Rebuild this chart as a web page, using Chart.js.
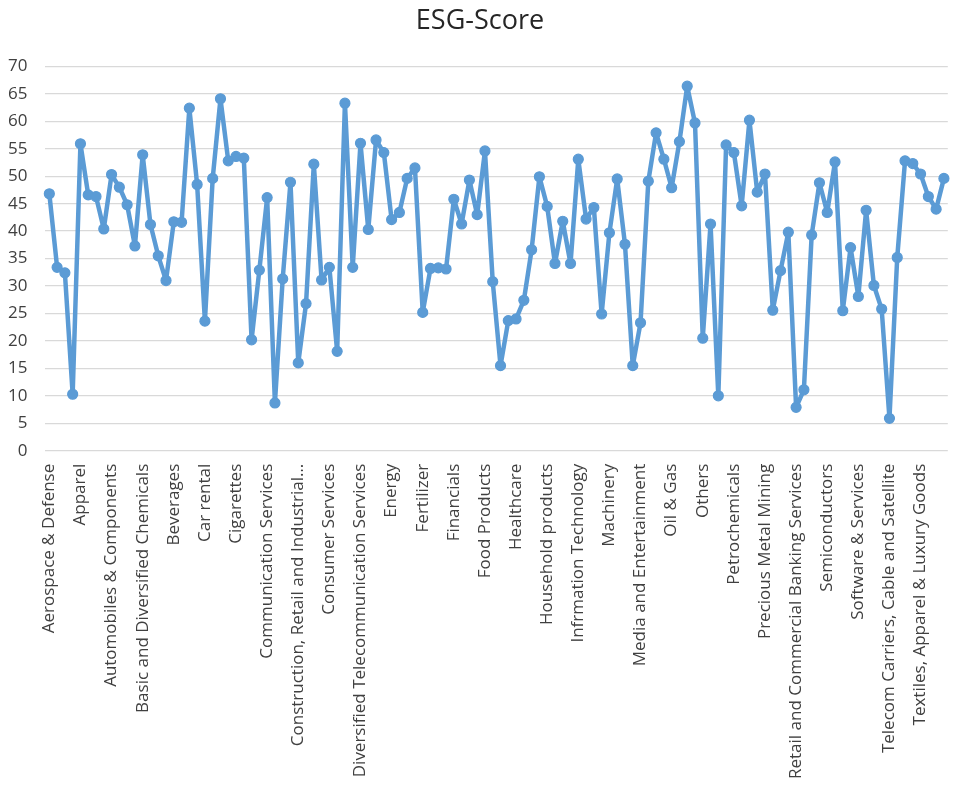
<!DOCTYPE html>
<html>
<head>
<meta charset="utf-8">
<title>ESG-Score</title>
<script src="https://cdn.jsdelivr.net/npm/chart.js@4/dist/chart.umd.min.js"></script>
<style>
  html, body { margin: 0; padding: 0; background: #ffffff; }
  #wrap { width: 954px; height: 785px; }
</style>
</head>
<body>
<div id="wrap"><canvas id="chart" width="954" height="785"></canvas></div>
<script>
// ESG scores, one per company, ordered by industry
const scores = [
  46.8, 33.4, 32.4, 10.3, 55.9, 46.6, 46.3, 40.4, 50.3, 48.0,
  44.8, 37.3, 53.9, 41.2, 35.5, 31.0, 41.7, 41.6, 62.4, 48.5,
  23.6, 49.6, 64.1, 52.8, 53.6, 53.3, 20.2, 32.9, 46.1, 8.7,
  31.3, 48.9, 16.0, 26.8, 52.2, 31.1, 33.4, 18.1, 63.3, 33.4,
  56.0, 40.3, 56.6, 54.3, 42.1, 43.4, 49.6, 51.5, 25.2, 33.2,
  33.3, 33.1, 45.8, 41.3, 49.3, 43.0, 54.6, 30.8, 15.5, 23.7,
  24.0, 27.4, 36.6, 49.9, 44.5, 34.1, 41.8, 34.1, 53.1, 42.2,
  44.3, 24.9, 39.7, 49.5, 37.6, 15.5, 23.3, 49.1, 57.9, 53.1,
  47.9, 56.3, 66.4, 59.7, 20.5, 41.3, 10.0, 55.7, 54.3, 44.6,
  60.2, 47.1, 50.4, 25.6, 32.8, 39.8, 7.9, 11.1, 39.3, 48.8,
  43.4, 52.6, 25.5, 37.0, 28.1, 43.8, 30.1, 25.8, 5.9, 35.2,
  52.8, 52.3, 50.4, 46.3, 44.0, 49.6
];

// Industry names printed under every fourth company
const industryTicks = [
  "Aerospace & Defense", "Apparel", "Automobiles & Components",
  "Basic and Diversified Chemicals", "Beverages", "Car rental", "Cigarettes",
  "Communication Services", "Construction, Retail and Industrial\u2026",
  "Consumer Services", "Diversified Telecommunication Services", "Energy",
  "Fertilizer", "Financials", "Food Products", "Healthcare",
  "Household products", "Infrmation Technology", "Machinery",
  "Media and Entertainment", "Oil & Gas", "Others", "Petrochemicals",
  "Precious Metal Mining", "Retail and Commercial Banking Services",
  "Semiconductors", "Software & Services",
  "Telecom Carriers, Cable and Satellite", "Textiles, Apparel & Luxury Goods"
];
const tickEvery = 4;

const yMin = 0, yMax = 70, yStep = 5;

const companyIndex = scores.map((_, i) => i);
const FONT = "'Open Sans', 'Noto Sans', sans-serif";

new Chart(document.getElementById('chart'), {
  type: 'line',
  data: {
    labels: companyIndex,
    datasets: [{
      label: 'ESG-Score',
      data: scores,
      borderColor: '#5b9bd5',
      backgroundColor: '#5b9bd5',
      borderWidth: 4.5,
      borderJoinStyle: 'round',
      borderCapStyle: 'round',
      pointRadius: 5,
      pointBorderWidth: 1.2,
      pointBackgroundColor: '#5b9bd5',
      pointBorderColor: '#5b9bd5',
      tension: 0,
      fill: false
    }]
  },
  options: {
    responsive: false,
    animation: false,
    devicePixelRatio: 1,
    layout: { padding: { left: 8, right: 2, top: 0, bottom: 6 } },
    plugins: {
      legend: { display: false },
      tooltip: { enabled: false },
      title: {
        display: true,
        text: 'ESG-Score',
        color: '#262626',
        font: { family: FONT, size: 27, weight: 'normal' },
        padding: { top: 5, bottom: 29 }
      }
    },
    scales: {
      x: {
        type: 'category',
        offset: true,
        grid: { display: false, drawTicks: false },
        border: { display: false },
        // names hang below the plot: no side margins, padding on the axis side only
        afterFit: (scale) => {
          scale.paddingLeft = 0;
          scale.paddingRight = 0;
          scale.height -= scale.options.ticks.padding;
        },
        ticks: {
          autoSkip: false,
          maxRotation: 90,
          minRotation: 90,
          padding: 13,
          color: '#404040',
          font: { family: FONT, size: 17 },
          callback: (value, index) =>
            index % tickEvery === 0 ? industryTicks[index / tickEvery] : ''
        }
      },
      y: {
        min: yMin,
        max: yMax,
        grid: { color: '#d9d9d9', lineWidth: 1.3, drawTicks: false },
        border: { display: false },
        // keep the gap only between the numbers and the plot
        afterFit: (scale) => { scale.width -= scale.options.ticks.padding; },
        ticks: {
          stepSize: yStep,
          padding: 18,
          color: '#404040',
          font: { family: FONT, size: 17 }
        }
      }
    }
  }
});
</script>
</body>
</html>
